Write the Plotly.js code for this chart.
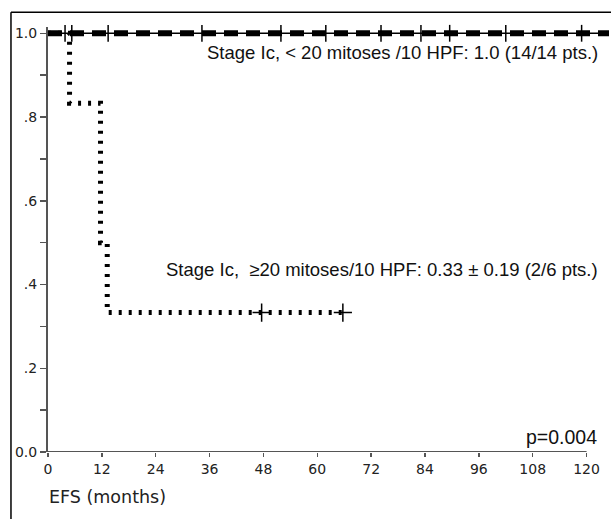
<!DOCTYPE html>
<html><head><meta charset="utf-8">
<script src="https://cdn.plot.ly/plotly-3.0.1.min.js"></script>
<style>body{margin:0;background:#fff}#c{width:611px;height:519px}</style>
</head><body><div id="c"></div>
<script>
// Stage Ic, >=20 mitoses/10 HPF (6 pts)
const lowTimes = [0, 4.8, 11.7, 13.2, 65.7];
const lowSurv = [1, 0.833, 0.5, 0.333, 0.333];
const lowCensorT = [47.6, 65.7];
const lowCensorS = [0.333, 0.333];
// Stage Ic, <20 mitoses/10 HPF (14 pts)
const highTimes = [0, 125];
const highSurv = [1, 1];
const highCensorT = [3.8, 5.3, 13.4, 34.3, 51.9, 61.9, 74.2, 83.1, 89.5, 102, 118.9];
const highCensorS = highCensorT.map(() => 1);
const xTicks = [0, 12, 24, 36, 48, 60, 72, 84, 96, 108, 120];
const yTicks = [0, 0.1, 0.2, 0.3, 0.4, 0.5, 0.6, 0.7, 0.8, 0.9, 1.0];
const yTickText = ['0.0', '', '.2', '', '.4', '', '.6', '', '.8', '', '1.0'];
const labelHigh = 'Stage Ic, < 20 mitoses /10 HPF: 1.0 (14/14 pts.)';
const labelLow = 'Stage Ic,  \u226520 mitoses/10 HPF: 0.33 \u00b1 0.19 (2/6 pts.)';
const pText = 'p=0.004';
const xTitle = 'EFS (months)';

const traces = [
  {x: lowTimes, y: lowSurv, mode: 'lines', line: {shape: 'hv', color: '#000', width: 5, dash: '3px,7px'}, hoverinfo: 'skip'},
  {x: lowCensorT, y: lowCensorS, mode: 'markers', marker: {symbol: 'cross-thin-open', size: 13, color: '#000', line: {color: '#000', width: 1.5}}, cliponaxis: false},
  {x: highTimes, y: highSurv, mode: 'lines', line: {color: '#000', width: 1.5}},
  {x: highTimes, y: highSurv, mode: 'lines', line: {color: '#000', width: 6, dash: '14px,8px'}},
  {x: highCensorT, y: highCensorS, mode: 'markers', marker: {symbol: 'line-ns-open', size: 12, color: '#000', line: {color: '#000', width: 1.5}}, cliponaxis: false}
];

const tickFont = {family: 'DejaVu Sans', size: 14, color: '#222'};
const annFont = {family: 'Liberation Sans, Arial', size: 18.5, color: '#111'};

const layout = {
  width: 611, height: 519,
  margin: {l: 48, r: 1.5, t: 27, b: 67},
  paper_bgcolor: '#fff', plot_bgcolor: '#fff',
  showlegend: false,
  xaxis: {
    range: [0, 125], tickvals: xTicks, ticktext: xTicks.map(String),
    showgrid: false, zeroline: false, showline: false,
    ticks: 'outside', ticklen: 4, tickwidth: 1.5, tickcolor: '#555',
    tickfont: tickFont
  },
  yaxis: {
    range: [0, 1.015], tickvals: yTicks, ticktext: yTickText,
    showgrid: false, zeroline: false, showline: true, linecolor: '#555', linewidth: 2,
    ticks: 'outside', ticklen: 6, tickwidth: 1.5, tickcolor: '#555',
    tickfont: tickFont
  },
  shapes: [
    {type: 'line', xref: 'x', yref: 'y', x0: 0, x1: 120, y0: 0, y1: 0, line: {color: '#555', width: 2}},
    {type: 'line', xref: 'paper', yref: 'paper', x0: -0.066, x1: -0.066, y0: 1.035, y1: -0.2, line: {color: '#000', width: 1.5}},
    {type: 'line', xref: 'paper', yref: 'paper', x0: -0.066, x1: 1.02, y0: 1.035, y1: 1.035, line: {color: '#000', width: 1.5}}
  ],
  annotations: [
    {xref: 'x', yref: 'y', x: 123, y: 0.955, text: labelHigh, showarrow: false, xanchor: 'right', yanchor: 'middle', font: annFont},
    {xref: 'x', yref: 'y', x: 123, y: 0.436, text: labelLow, showarrow: false, xanchor: 'right', yanchor: 'middle', font: annFont},
    {xref: 'x', yref: 'y', x: 122.7, y: 0.035, text: pText, showarrow: false, xanchor: 'right', yanchor: 'middle', font: {family: 'Liberation Sans, Arial', size: 19.5, color: '#111'}},
    {xref: 'paper', yref: 'paper', x: -0.002, y: -0.106, text: xTitle, showarrow: false, xanchor: 'left', yanchor: 'middle', font: {family: 'DejaVu Sans', size: 17.5, color: '#222'}}
  ]
};

Plotly.newPlot('c', traces, layout, {staticPlot: true});
</script></body></html>
